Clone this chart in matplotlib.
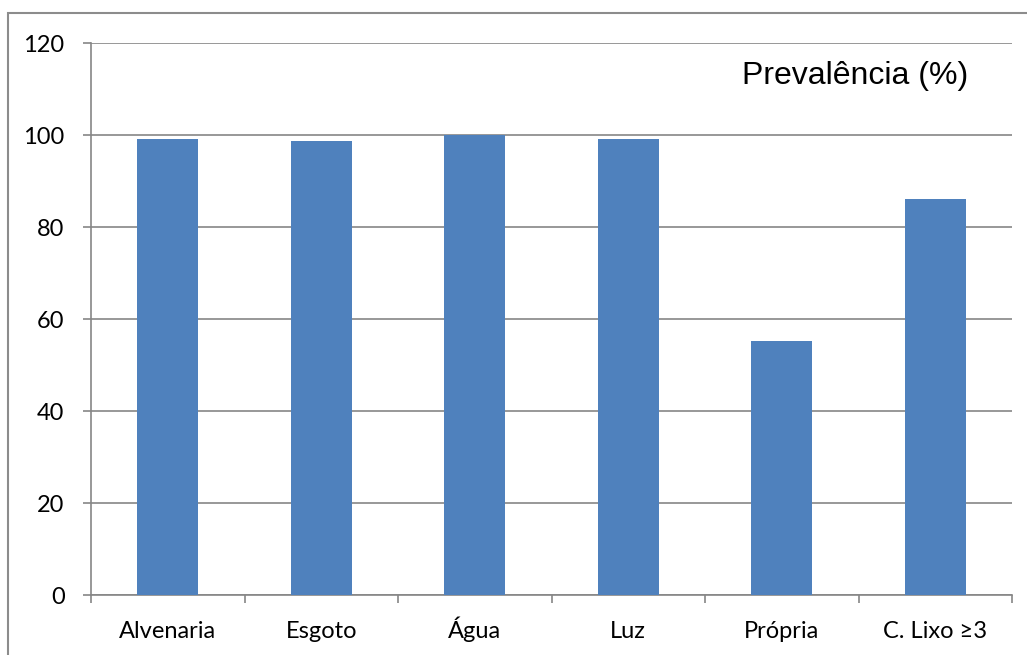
import matplotlib
matplotlib.use("Agg")
import matplotlib.pyplot as plt
from matplotlib.patches import Rectangle

categories = ["Alvenaria", "Esgoto", "Água", "Luz", "Própria", "C. Lixo ≥3"]
prevalence = [99.1, 98.7, 100.0, 99.1, 55.2, 86.1]

fig = plt.figure(figsize=(10.27, 6.55), dpi=100)
ax = fig.add_axes([91 / 1027, 1 - 595 / 655, (1012 - 91) / 1027, (595 - 43) / 655])

# outer chart frame
fig.patches.append(Rectangle((8 / 1027, -0.1), 1.2, 1 - 13 / 655 + 0.1, transform=fig.transFigure,
                             fill=False, edgecolor="#8c8c8c", linewidth=1.5))

x = range(len(categories))
ax.bar(x, prevalence, width=0.4, color="#4F81BD", zorder=3)

ax.set_xlim(-0.5, len(categories) - 0.5)
ax.set_ylim(0, 120)
ax.set_yticks(range(0, 121, 20))
ax.yaxis.grid(True, color="#868686", linewidth=1.2, zorder=0)

# category separators as major ticks, names on minor ticks
ax.set_xticks([i - 0.5 for i in range(len(categories) + 1)])
ax.set_xticklabels([])
ax.set_xticks(list(x), minor=True)
ax.set_xticklabels(categories, minor=True, fontsize=17, family="Lato", va="baseline")
ax.tick_params(axis="x", which="minor", length=0, pad=31)
ax.tick_params(axis="x", which="major", length=6, color="#868686", width=1.2)
ax.tick_params(axis="y", length=6, color="#868686", width=1.2, labelsize=17, pad=13)
for lbl in ax.get_yticklabels():
    lbl.set_family("Lato")

for side in ["top", "right"]:
    ax.spines[side].set_visible(False)
for side in ["left", "bottom"]:
    ax.spines[side].set_color("#868686")
    ax.spines[side].set_linewidth(1.2)

ax.text(0.952, 0.94, "Prevalência (%)", transform=ax.transAxes, ha="right", va="center",
        fontsize=23, family="Liberation Sans")

fig.savefig("out.png", dpi=100)
